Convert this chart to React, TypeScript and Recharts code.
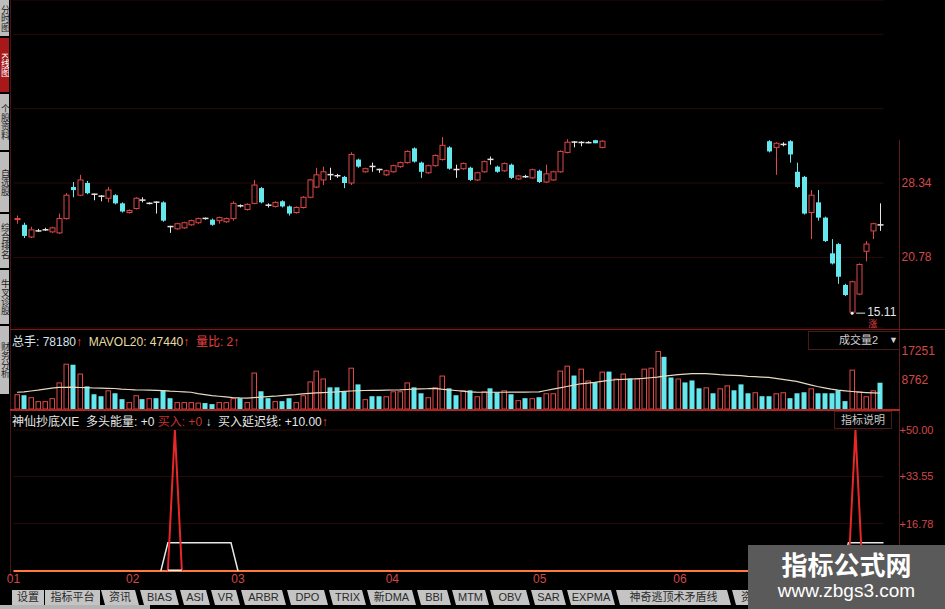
import React from "react";
import {
  ComposedChart,
  Bar,
  Line,
  XAxis,
  YAxis,
  CartesianGrid,
  ReferenceLine,
  ReferenceDot,
} from "recharts";

// daily candles (null = no candle drawn)
const opens = [
  24.62, 24.09, 22.85, 23.47, 23.58, 23.37, 23.27, 24.72, 27.93, 27.1,
  28.34, 27.2, 27.0, 26.79, 27.1, 26.27, 25.34, 25.75, 26.6, 26.27,
  26.39, 26.37, 23.91, 23.68, 23.78, 24.09, 24.3, 24.74, 24.61, 24.51,
  24.4, 24.72, 26.02, 25.65, 26.27, 27.82, 26.08, 25.96, 26.48, 25.96,
  25.34, 25.85, 26.89, 27.93, 28.65, 29.19, 29.08, 28.96, 28.34, 30.72,
  29.48, 30.02, 29.71, 29.17, 29.48, 30.0, 30.41, 31.86, 30.41, 29.38,
  30.1, 30.72, 31.96, 29.71, 29.79, 29.89, 28.65, 29.48, 30.74, 30.0,
  29.58, 30.2, 28.75, 28.98, 28.86, 29.58, 28.44, 28.65, 29.48, 31.45,
  32.5, 32.46, 32.44, 32.69, 31.96, null, null, null, null, null,
  null, null, null, null, null, null, null, null, null, null,
  null, null, null, null, null, null, null, null, 32.59, 31.96,
  32.26, 32.59, 29.48, 28.96, 25.34, 26.37, 24.82, 21.19, 22.13, 17.98,
  15.21, 17.05, 21.4, 23.47, 24.08,
];
const highs = [
  25.03, 24.3, 23.89, 23.68, 23.78, 23.89, 25.23, 27.3, 28.44, 29.17,
  28.55, 27.25, 27.1, 27.93, 27.2, 26.37, 25.65, 26.89, 26.89, 26.37,
  26.48, 26.48, 23.99, 24.3, 24.4, 24.61, 24.82, 24.82, 24.72, 24.92,
  24.82, 26.48, 26.17, 26.27, 28.65, 27.93, 26.27, 26.48, 26.58, 26.06,
  25.96, 27.0, 28.75, 29.89, 30.0, 29.89, 29.27, 29.06, 31.45, 30.82,
  29.89, 30.41, 29.79, 29.69, 30.2, 30.51, 31.65, 31.96, 30.51, 30.2,
  31.24, 33.0, 32.07, 30.2, 30.41, 30.0, 29.48, 30.62, 31.03, 30.1,
  30.41, 30.31, 29.17, 29.17, 29.79, 29.69, 30.2, 29.58, 31.65, 32.79,
  32.59, 32.59, 32.59, 32.72, 32.69, null, null, null, null, null,
  null, null, null, null, null, null, null, null, null, null,
  null, null, null, null, null, null, null, null, 32.69, 32.48,
  32.48, 32.69, 30.41, 29.06, 27.62, 27.62, 24.92, 22.64, 22.23, 18.09,
  18.4, 20.16, 22.44, 24.3, 26.27,
];
const lows = [
  24.2, 22.75, 22.75, 23.37, 23.47, 23.27, 23.16, 24.61, 26.89, 27.0,
  27.2, 26.58, 26.48, 26.37, 26.17, 25.34, 25.23, 25.65, 26.37, 26.17,
  25.23, 24.4, 23.27, 23.58, 23.68, 23.99, 24.2, 24.61, 23.99, 24.2,
  24.3, 24.51, 25.85, 25.54, 26.17, 26.27, 25.85, 25.85, 25.85, 25.03,
  25.23, 25.75, 26.79, 27.82, 28.13, 28.65, 28.86, 27.82, 28.13, 29.89,
  29.38, 29.48, 29.38, 29.06, 29.38, 29.89, 30.31, 30.41, 28.86, 29.27,
  30.0, 30.62, 29.69, 28.86, 29.69, 28.55, 28.55, 29.38, 30.2, 29.38,
  29.48, 28.75, 28.65, 28.86, 28.75, 28.34, 28.34, 28.55, 29.38, 31.35,
  31.96, 32.07, 32.38, 32.38, 31.86, null, null, null, null, null,
  null, null, null, null, null, null, null, null, null, null,
  null, null, null, null, null, null, null, null, 31.45, 29.17,
  32.07, 30.41, 27.82, 25.13, 22.64, 24.51, 22.34, 20.06, 18.09, 16.85,
  15.11, 16.95, 20.37, 22.64, 23.47,
];
const closes = [
  24.72, 22.96, 23.58, 23.47, 23.58, 23.78, 24.72, 27.1, 27.62, 28.65,
  27.3, 27.16, 26.97, 27.62, 26.27, 25.44, 25.54, 26.79, 26.56, 26.29,
  26.35, 24.51, 23.87, 24.2, 24.3, 24.51, 24.72, 24.7, 24.09, 24.82,
  24.72, 26.27, 25.98, 26.17, 28.13, 26.37, 26.04, 26.37, 25.96, 25.23,
  25.85, 26.89, 28.65, 29.17, 29.48, 29.15, 29.04, 28.34, 31.24, 30.0,
  29.79, 29.98, 29.67, 29.58, 30.1, 30.41, 31.55, 30.51, 29.48, 30.1,
  31.14, 32.17, 29.79, 29.67, 30.31, 28.65, 29.38, 30.51, 30.7, 29.48,
  30.31, 28.86, 29.06, 28.94, 29.69, 28.44, 29.27, 29.48, 31.55, 32.48,
  32.46, 32.5, 32.48, 32.38, 32.59, null, null, null, null, null,
  null, null, null, null, null, null, null, null, null, null,
  null, null, null, null, null, null, null, null, 31.55, 32.38,
  32.3, 31.24, 27.93, 25.23, 27.1, 24.82, 22.44, 20.16, 18.81, 16.95,
  18.3, 20.06, 22.13, 24.2, 24.04,
];

// volume (x10 hands) and its 20-day average line
const volumes = [
  4390, 4100, 3510, 2340, 2340, 3220, 7900, 13460, 13170, 10540,
  6730, 4390, 3800, 5560, 4680, 2930, 2050, 4100, 2930, 3220,
  3220, 5560, 3220, 2050, 2050, 2050, 1900, 1760, 1460, 2050,
  2050, 3220, 3220, 2050, 10830, 5270, 3220, 2340, 2340, 3220,
  2050, 4100, 8200, 11420, 9070, 6440, 6440, 5270, 12290, 7320,
  2930, 3800, 3800, 3800, 5270, 5270, 7900, 6440, 4680, 3510,
  6440, 9950, 6150, 4100, 5560, 5560, 3800, 5270, 6150, 4980,
  5560, 4390, 2630, 3220, 3220, 3510, 4680, 4680, 11420, 12880,
  9950, 12000, 8490, 7900, 11120, 11120, 9070, 10540, 9070, 9070,
  12000, 12290, 17251, 15510, 9370, 9070, 7900, 8490, 6150, 6440,
  4680, 6150, 7020, 5560, 7320, 4680, 4980, 3800, 3800, 4680,
  4980, 3220, 4680, 4980, 6150, 4680, 4680, 4680, 5560, 2340,
  11710, 5270, 3800, 5560, 7818,
];
const mavol20 = [
  4980, 5100, 5350, 5600, 5900, 6200, 6440, 6440, 6500, 6400,
  6350, 6250, 6200, 6150, 6100, 5900, 5800, 5700, 5650, 5600,
  5560, 5450, 5300, 5200, 5100, 4980, 4600, 4300, 4000, 3800,
  3600, 3400, 3300, 3250, 3400, 3550, 3700, 3800, 4000, 4150,
  4300, 4500, 4650, 4800, 4900, 4980, 5100, 5250, 5350, 5450,
  5500, 5560, 5560, 5600, 5650, 5700, 5800, 5900, 6000, 6050,
  6150, 5900, 5700, 5500, 5300, 5100, 5000, 4980, 4980, 4980,
  4980, 5000, 5000, 5000, 5050, 5100, 5500, 5900, 6300, 6700,
  7100, 7500, 7700, 7900, 8200, 8500, 8700, 8800, 8900, 9000,
  9100, 9300, 9500, 9800, 10000, 10200, 10400, 10500, 10540, 10500,
  10400, 10200, 10100, 10000, 9900, 9700, 9600, 9500, 9400, 9100,
  8800, 8500, 8200, 7700, 7200, 6700, 6300, 5900, 5600, 5400,
  5200, 5000, 4900, 4800, 4744,
];
// up/down colour of the volume bars where no candle is shown (days 85..107)
const gapVolUp = [
  false, true, true, false, true, true, true, true, false, false, true, false,
  false, false, true, false, true, true, false, false, false, true, false,
];
const gapStart = 85;

// indicator panel: [day, value]
const energyPoints = [[22, 0], [23, 50], [24, 0], [119, 0], [120, 50], [121, 0]];
const delayPoints = [
  [21, 0], [22, 10], [23, 10], [24, 10], [25, 10], [26, 10], [27, 10],
  [28, 10], [29, 10], [30, 10], [31, 10], [32, 0],
  [118, 0], [119, 10], [120, 10], [121, 10], [122, 10], [123, 10], [124, 10],
];
const markPoints = [[22, 0], [23, 0], [24, 0]];

const monthLabels = ["01", "02", "03", "04", "05", "06"];
const monthStarts = [0, 17, 32, 54, 75, 95];

const priceGridTicks = [20.78, 28.34, 35.9, 43.46];
const priceLabelTicks = [20.78, 28.34];
const volTicks = [0, 8762, 17251];
const indTicks = [16.78, 33.55, 50];

const bottomTabs = [
  "设置", "指标平台", "资讯", "BIAS", "ASI", "VR", "ARBR", "DPO", "TRIX",
  "新DMA", "BBI", "MTM", "OBV", "SAR", "EXPMA", "神奇逃顶术矛盾线", "资金",
];
const bottomTabWidths = [32, 55, 38, 39, 30, 29, 45, 41, 37, 49, 34, 37, 40, 35, 48, 115, 40];
const sideTabs = ["分时图", "K线图", "个股资料", "自选股", "综合排名", "牛叉诊股", "财务分析"];
const sideTabHeights = [36, 54, 56, 60, 54, 54, 68];

const FONT = "'Liberation Sans', 'Noto Sans CJK SC', sans-serif";
const UP = "#e04848";
const DOWN = "#64e8ee";
const DOJI = "#e6e6e6";
const GRID = "#2a0c0c";
const AXIS_RED = "#d24848";

const lookup = (pts: number[][], i: number) => {
  const hit = pts.find((p) => p[0] === i);
  return hit ? hit[1] : null;
};

const rows = opens.map((o, i) => {
  const up = o == null ? gapVolUp[i - gapStart] : (closes[i] as number) >= o;
  return {
    idx: i,
    open: o,
    high: highs[i],
    low: lows[i],
    close: closes[i],
    range: o == null ? null : [lows[i], highs[i]],
    vol: volumes[i],
    up,
    mavol: mavol20[i],
    energy: lookup(energyPoints, i),
    delay: lookup(delayPoints, i),
    mark: lookup(markPoints, i),
  };
});

let lowIdx = 0;
rows.forEach((r) => {
  if (r.low != null && r.low < (rows[lowIdx].low as number)) lowIdx = r.idx;
});
const lowVal = rows[lowIdx].low as number;

const Candle = (p: any) => {
  const { x, y, width, height, payload } = p;
  if (!payload || payload.open == null || !isFinite(y)) return <g />;
  const { open, close, high, low } = payload;
  const h = Math.abs(height);
  const top = height >= 0 ? y : y + height;
  const k = h / (high - low);
  const cx = Math.round(x + width / 2) + 0.5;
  const yO = top + (high - open) * k;
  const yC = top + (high - close) * k;
  const bTop = Math.min(yO, yC);
  const bBot = Math.max(yO, yC);
  if (Math.abs(open - close) < 0.06) {
    return (
      <g stroke={DOJI} strokeWidth={1}>
        <line x1={cx} x2={cx} y1={top} y2={top + h} />
        <line x1={cx - 3} x2={cx + 3} y1={yO} y2={yO} strokeWidth={1.5} />
      </g>
    );
  }
  if (close > open) {
    return (
      <g stroke={UP} strokeWidth={1}>
        <line x1={cx} x2={cx} y1={top} y2={bTop} />
        <line x1={cx} x2={cx} y1={bBot} y2={top + h} />
        <rect x={cx - 2.5} y={bTop} width={5} height={Math.max(bBot - bTop, 1)} fill="#000" />
      </g>
    );
  }
  return (
    <g>
      <line x1={cx} x2={cx} y1={top} y2={top + h} stroke={DOWN} />
      <rect x={cx - 2.5} y={bTop} width={5} height={Math.max(bBot - bTop, 1)} fill={DOWN} />
    </g>
  );
};

const VolBar = (p: any) => {
  const { x, y, width, height, payload } = p;
  if (!payload || !isFinite(y)) return <g />;
  const cx = Math.round(x + width / 2);
  if (payload.up) {
    return (
      <rect x={cx - 2} y={y + 0.5} width={4.5} height={Math.max(height - 0.5, 0)} fill="#000" stroke={UP} />
    );
  }
  return <rect x={cx - 2.5} y={y} width={5} height={height} fill={DOWN} />;
};

const LowMark = (p: any) => {
  const { cx, cy } = p;
  return (
    <g>
      <circle cx={cx} cy={cy} r={1.5} fill="#f0f0f0" />
      <line x1={cx + 4} x2={cx + 13} y1={cy} y2={cy} stroke="#e0e0e0" />
      <text x={cx + 15} y={cy + 3} fill="#e6e6e6" fontSize={12}>
        {lowVal.toFixed(2)}
      </text>
      <text x={cx + 16} y={cy + 14} fill="#e04040" fontSize={9}>
        涨
      </text>
    </g>
  );
};

const PriceTick = (p: any) => {
  const v = p.payload.value;
  if (!priceLabelTicks.some((t) => t.toFixed(2) === Number(v).toFixed(2))) return <g />;
  return (
    <text x={p.x + 18} y={p.y + 4} fill={AXIS_RED} fontSize={12}>
      {Number(v).toFixed(2)}
    </text>
  );
};

const VolTick = (p: any) => {
  const v = p.payload.value;
  return (
    <text x={p.x + 18} y={v === 0 ? p.y - 3 : p.y + 4} fill={AXIS_RED} fontSize={12}>
      {v === 0 ? "X10" : v}
    </text>
  );
};

const IndTick = (p: any) => (
  <text x={p.x + 16} y={p.y + 4} fill={AXIS_RED} fontSize={11}>
    {"+" + Number(p.payload.value).toFixed(2)}
  </text>
);

const MonthTick = (p: any) => {
  const k = monthStarts.indexOf(p.payload.value);
  if (k < 0) return <g />;
  return (
    <text x={p.x} y={p.y + 12} textAnchor="middle" fill={AXIS_RED} fontSize={12}>
      {monthLabels[k]}
    </text>
  );
};

const hline = (top: number, left: number, width: number, color: string, h = 1) => (
  <div style={{ position: "absolute", top, left, width, height: h, background: color }} />
);

export default function App() {
  let sideY = 0;
  return (
    <div
      style={{
        position: "absolute",
        left: 0,
        top: 0,
        width: 945,
        height: 609,
        background: "#000",
        overflow: "hidden",
        fontFamily: FONT,
      }}
    >
      {/* left toolbar */}
      {sideTabs.map((t, i) => {
        const top = sideY;
        sideY += sideTabHeights[i] + 2;
        return (
          <div
            key={t}
            style={{
              position: "absolute",
              left: 0,
              top,
              width: 9,
              height: sideTabHeights[i],
              background: i === 1 ? "#a81818" : "#bdbdbd",
              color: i === 1 ? "#fff" : "#222",
              fontSize: 9,
              writingMode: "vertical-rl",
              overflow: "hidden",
              lineHeight: "9px",
              textAlign: "center",
            }}
          >
            {t}
          </div>
        );
      })}
      <div style={{ position: "absolute", left: 10, top: 0, width: 1, height: 576, background: "#4a1414" }} />
      <div style={{ position: "absolute", left: 899, top: 140, width: 1, height: 436, background: "#5a1c1c" }} />

      {/* price panel */}
      <div style={{ position: "absolute", left: 0, top: 0 }}>
        <ComposedChart width={945} height={330} data={rows} margin={{ top: 0, right: 0, bottom: 2, left: 13.5 }}>
          <CartesianGrid vertical={false} stroke={GRID} />
          <XAxis dataKey="idx" hide />
          <YAxis
            orientation="right"
            width={61.5}
            domain={[13.6, 46.94]}
            allowDataOverflow
            ticks={priceGridTicks}
            axisLine={false}
            tickLine={false}
            tickSize={0}
            tickMargin={0}
            tick={PriceTick}
          />
          <Bar dataKey="range" shape={Candle} isAnimationActive={false} />
          <ReferenceDot x={lowIdx} y={lowVal} r={2} shape={LowMark} />
        </ComposedChart>
      </div>
      {hline(329, 10, 935, "#7a1818")}

      {/* volume panel */}
      <div style={{ position: "absolute", left: 12, top: 332, fontSize: 12, whiteSpace: "pre", color: "#d8e4ec" }}>
        <span>总手: 78180</span>
        <span style={{ color: "#ff4040" }}>↑ </span>
        <span style={{ color: "#e8dca0" }}> MAVOL20: 47440</span>
        <span style={{ color: "#ff4040" }}>↑ </span>
        <span style={{ color: "#e84040" }}> 量比: 2↑</span>
      </div>
      <div
        style={{
          position: "absolute",
          left: 808,
          top: 331,
          width: 90,
          height: 17,
          border: "1px solid #4a1a1a",
          color: "#cfcfcf",
          fontSize: 11,
          lineHeight: "17px",
        }}
      >
        <span style={{ position: "absolute", left: 30 }}>成交量2</span>
        <span style={{ position: "absolute", left: 80, fontSize: 9 }}>▼</span>
      </div>
      <div style={{ position: "absolute", left: 0, top: 330 }}>
        <ComposedChart width={945} height={80} data={rows} margin={{ top: 21, right: 0, bottom: 1, left: 13.5 }}>
          <XAxis dataKey="idx" hide />
          <YAxis
            orientation="right"
            width={61.5}
            domain={[0, 17251]}
            allowDataOverflow
            ticks={volTicks}
            axisLine={false}
            tickLine={false}
            tickSize={0}
            tickMargin={0}
            tick={VolTick}
          />
          <Bar dataKey="vol" shape={VolBar} isAnimationActive={false} />
          <Line type="linear" dataKey="mavol" stroke="#e6dabe" strokeWidth={1.2} dot={false} isAnimationActive={false} />
        </ComposedChart>
      </div>
      {hline(409, 10, 890, "#b02424", 2)}

      {/* indicator panel */}
      <div style={{ position: "absolute", left: 12, top: 412, fontSize: 12, whiteSpace: "pre", color: "#e6e6e6" }}>
        <span>神仙抄底XIE  多头能量: +0 </span>
        <span style={{ color: "#c43232" }}>买入: +0 </span>
        <span style={{ color: "#bfeef2" }}>↓ </span>
        <span> 买入延迟线: +10.00</span>
        <span style={{ color: "#ff4040" }}>↑</span>
      </div>
      <div
        style={{
          position: "absolute",
          left: 834,
          top: 411,
          width: 56,
          height: 16,
          border: "1px solid #4a1a1a",
          color: "#c8c8c8",
          fontSize: 11,
          lineHeight: "16px",
          textAlign: "center",
        }}
      >
        指标说明
      </div>
      <div style={{ position: "absolute", left: 0, top: 410 }}>
        <ComposedChart width={945} height={180} data={rows} margin={{ top: 20, right: 0, bottom: 0, left: 13.5 }}>
          <CartesianGrid vertical={false} stroke={GRID} />
          <XAxis
            dataKey="idx"
            interval={0}
            axisLine={false}
            tickLine={false}
            tickSize={0}
            tickMargin={0}
            height={19}
            tick={MonthTick}
          />
          <YAxis
            orientation="right"
            width={61.5}
            domain={[0, 50]}
            allowDataOverflow
            ticks={indTicks}
            axisLine={false}
            tickLine={false}
            tickSize={0}
            tickMargin={0}
            tick={IndTick}
          />
          <ReferenceLine y={0} stroke="#ff7a3c" strokeWidth={2} />
          <Line type="linear" dataKey="delay" stroke="#e8e8e8" strokeWidth={1.5} dot={false} connectNulls={false} isAnimationActive={false} />
          <Line type="linear" dataKey="energy" stroke="#e62828" strokeWidth={2} dot={false} connectNulls={false} isAnimationActive={false} />
          <Line type="linear" dataKey="mark" stroke="#f4f4f4" strokeWidth={3} dot={false} connectNulls={false} isAnimationActive={false} />
        </ComposedChart>
      </div>
      {hline(570, 883, 16, "#ff7a3c", 2)}

      {/* bottom tab bar */}
      <div style={{ position: "absolute", left: 12, top: 590, display: "flex", gap: 1 }}>
        {bottomTabs.map((t, i) => (
          <div
            key={t}
            style={{
              width: bottomTabWidths[i],
              height: 15,
              background: "#c4c4c4",
              color: "#2a2a2a",
              fontSize: 11,
              lineHeight: "15px",
              textAlign: "center",
              whiteSpace: "nowrap",
              overflow: "hidden",
              clipPath: i < 2 ? "none" : "polygon(0 0, calc(100% - 4px) 0, 100% 100%, 4px 100%)",
            }}
          >
            {t}
          </div>
        ))}
      </div>
      <div style={{ position: "absolute", left: 0, top: 605, width: 150, height: 4, background: "#b4b4b4" }} />

      {/* watermark */}
      <div
        style={{
          position: "absolute",
          left: 748,
          top: 545,
          width: 197,
          height: 64,
          background: "#5a5a5a",
          color: "#fff",
          textAlign: "center",
        }}
      >
        <div style={{ fontSize: 26, fontWeight: 700, lineHeight: "30px", marginTop: 4, fontFamily: "'Noto Sans CJK SC', sans-serif" }}>
          指标公式网
        </div>
        <div style={{ fontSize: 19, lineHeight: "24px" }}>www.zbgs3.com</div>
      </div>
    </div>
  );
}
